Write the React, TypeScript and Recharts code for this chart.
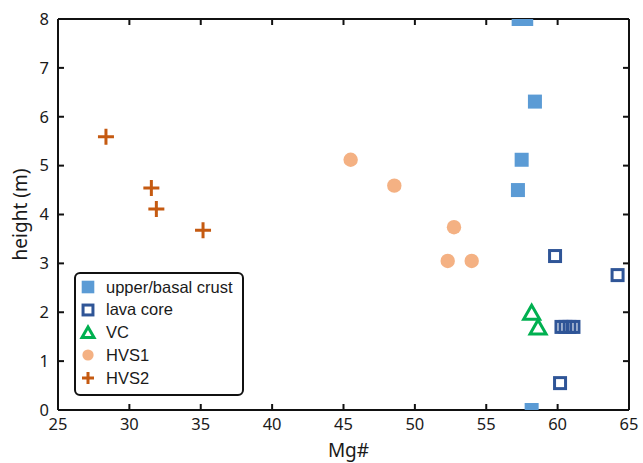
import {FC} from "react";
import {ScatterChart, Scatter, XAxis, YAxis, Label, Legend} from 'recharts';

// Mg# vs height
const crust = [
    {x: 57.27, y: 8}, {x: 57.8, y: 8}, {x: 58.41, y: 6.31},
    {x: 57.48, y: 5.12}, {x: 57.22, y: 4.5}, {x: 58.18, y: 0}
];
const lavaCore = [
    {x: 59.82, y: 3.15}, {x: 64.2, y: 2.76},
    {x: 60.27, y: 1.7}, {x: 60.55, y: 1.7}, {x: 60.83, y: 1.7}, {x: 61.11, y: 1.7},
    {x: 60.17, y: 0.55}
];
const vc = [{x: 58.18, y: 1.98}, {x: 58.63, y: 1.68}];
const hvs1 = [
    {x: 45.5, y: 5.12}, {x: 48.56, y: 4.59}, {x: 52.74, y: 3.74},
    {x: 52.3, y: 3.05}, {x: 53.98, y: 3.05}
];
const hvs2 = [{x: 28.36, y: 5.59}, {x: 31.54, y: 4.54}, {x: 31.89, y: 4.11}, {x: 35.16, y: 3.68}];

const xTicks = [25, 30, 35, 40, 45, 50, 55, 60, 65];
const yTicks = [0, 1, 2, 3, 4, 5, 6, 7, 8];

const BLUE = '#5B9BD5';
const NAVY = '#2F5597';
const GREEN = '#00B050';
const PEACH = '#F4B183';
const RUST = '#C55A11';

// marker shapes, s = scale (legend uses smaller ones)
const FilledSquare = (p: any, s = 1) => <rect x={p.cx - 7 * s} y={p.cy - 7 * s} width={14 * s} height={14 * s} fill={BLUE}/>;
const OpenSquare = (p: any, s = 1) => (
    <rect x={p.cx - 5.5 * s} y={p.cy - 5.5 * s} width={11 * s} height={11 * s} fill="none" stroke={NAVY} strokeWidth={3}/>
);
const Triangle = (p: any, s = 1) => (
    <path d={`M${p.cx},${p.cy - 8 * s} L${p.cx + 8 * s},${p.cy + 6 * s} L${p.cx - 8 * s},${p.cy + 6 * s} Z`} fill="none"
          stroke={GREEN} strokeWidth={3}/>
);
const Dot = (p: any, s = 1) => <circle cx={p.cx} cy={p.cy} r={7.2 * s} fill={PEACH}/>;
const Plus = (p: any, s = 1) => (
    <path d={`M${p.cx - 8 * s},${p.cy} H${p.cx + 8 * s} M${p.cx},${p.cy - 8 * s} V${p.cy + 8 * s}`} stroke={RUST}
          strokeWidth={3}/>
);

const legendItems = [
    {name: 'upper/basal crust', Shape: FilledSquare, s: 0.9},
    {name: 'lava core', Shape: OpenSquare, s: 0.9},
    {name: 'VC', Shape: Triangle, s: 0.75},
    {name: 'HVS1', Shape: Dot, s: 0.78},
    {name: 'HVS2', Shape: Plus, s: 0.75},
];

const LegendBox: FC = () => (
    <div style={{
        width: 166, height: 120, border: '2px solid #111', borderRadius: 6, background: 'white',
        fontFamily: '"Liberation Sans", Arial, sans-serif', fontSize: 16.5, color: '#1a1a1a', boxSizing: 'content-box'
    }}>
        {legendItems.map((it, i) => (
            <div key={it.name} style={{position: 'absolute', left: 0, top: 4 + i * 22.8, height: 22, display: 'flex', alignItems: 'center'}}>
                <svg width={24} height={22} style={{marginLeft: 2}}>
                    {it.Shape({cx: 12, cy: 11}, it.s)}
                </svg>
                <span style={{marginLeft: 6}}>{it.name}</span>
            </div>
        ))}
    </div>
);

const axisFont = {fontFamily: '"Noto Sans", sans-serif', fontSize: 16.5, fill: '#1a1a1a'};
const labelFont = {fontFamily: '"Noto Sans", sans-serif', fontSize: 19, fill: '#1a1a1a'};

const App: FC = () => {
    return (
        <div style={{position: 'absolute', left: 0, top: 0}}>
            <ScatterChart width={643} height={463} margin={{top: 18, right: 13, bottom: 0, left: 0}}>
                <XAxis xAxisId="b" type="number" dataKey="x" domain={[25, 65]} ticks={xTicks} interval={0}
                       height={53} tickSize={-6} tickMargin={14} tick={axisFont}
                       axisLine={{stroke: '#111', strokeWidth: 2}} tickLine={{stroke: '#111', strokeWidth: 2}}
                       allowDataOverflow>
                    <Label value="Mg#" position="insideBottom" offset={6} dx={5} style={labelFont}/>
                </XAxis>
                <XAxis xAxisId="t" orientation="top" type="number" dataKey="x" domain={[25, 65]} ticks={xTicks}
                       interval={0} height={1} tickSize={-6} tickFormatter={() => ''}
                       axisLine={{stroke: '#111', strokeWidth: 2}} tickLine={{stroke: '#111', strokeWidth: 2}}
                       allowDataOverflow/>
                <YAxis yAxisId="l" type="number" dataKey="y" domain={[0, 8]} ticks={yTicks} interval={0}
                       width={58} tickSize={-6} tickMargin={15} tick={axisFont}
                       axisLine={{stroke: '#111', strokeWidth: 2}} tickLine={{stroke: '#111', strokeWidth: 2}}
                       allowDataOverflow>
                    <Label value="height (m)" angle={-90} position="center" dx={-9}
                           style={{...labelFont, textAnchor: 'middle'}}/>
                </YAxis>
                <YAxis yAxisId="r" orientation="right" type="number" dataKey="y" domain={[0, 8]} ticks={yTicks}
                       interval={0} width={1} tickSize={-6} tickFormatter={() => ''}
                       axisLine={{stroke: '#111', strokeWidth: 2}} tickLine={{stroke: '#111', strokeWidth: 2}}
                       allowDataOverflow/>
                <Legend layout="vertical" align="center" verticalAlign="middle" content={() => <LegendBox/>}
                        wrapperStyle={{position: 'absolute', left: 74, top: 272, width: 'auto'}}/>
                <Scatter name="HVS1" data={hvs1} xAxisId="b" yAxisId="l" shape={(p: any) => Dot(p)} isAnimationActive={false}/>
                <Scatter name="HVS2" data={hvs2} xAxisId="b" yAxisId="l" shape={(p: any) => Plus(p)} isAnimationActive={false}/>
                <Scatter name="VC" data={vc} xAxisId="b" yAxisId="l" shape={(p: any) => Triangle(p)} isAnimationActive={false}/>
                <Scatter name="lava core" data={lavaCore} xAxisId="b" yAxisId="l" shape={(p: any) => OpenSquare(p)}
                         isAnimationActive={false}/>
                <Scatter name="upper/basal crust" data={crust} xAxisId="b" yAxisId="l" shape={(p: any) => FilledSquare(p)}
                         isAnimationActive={false}/>
                <Scatter data={[]} xAxisId="t" yAxisId="r" isAnimationActive={false} legendType="none"/>
            </ScatterChart>
        </div>
    );
};

export default App;
